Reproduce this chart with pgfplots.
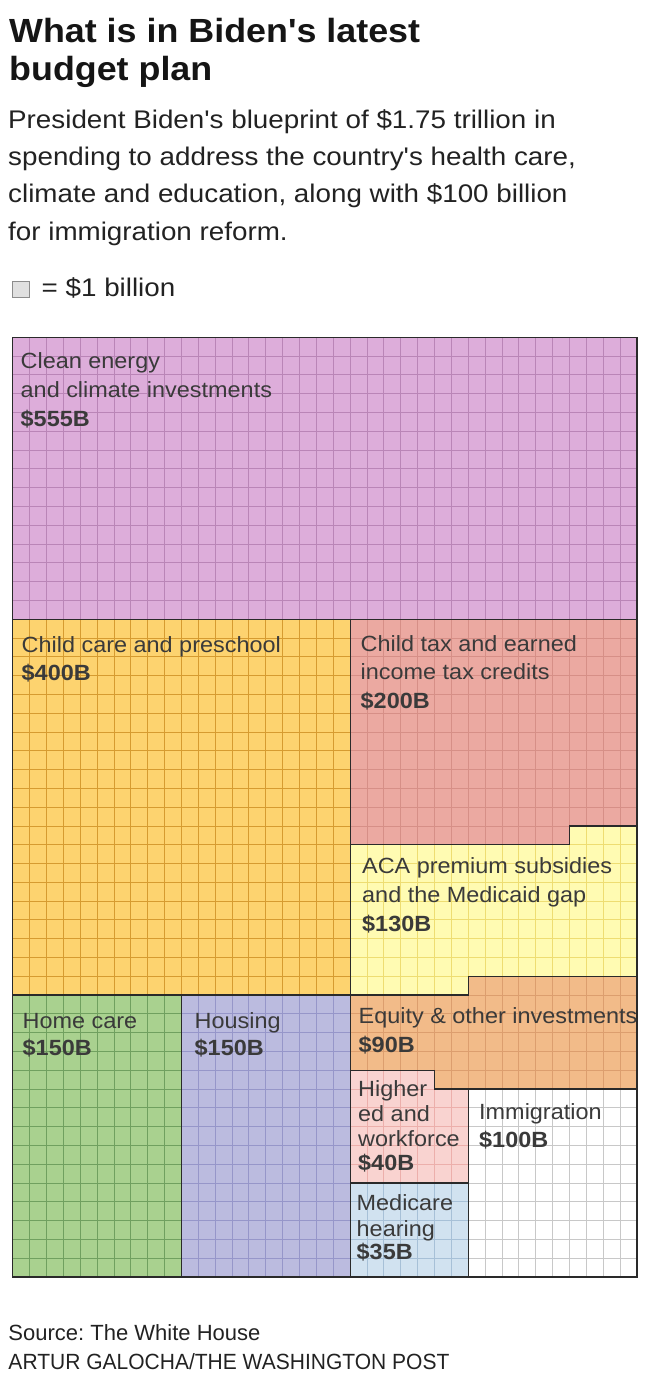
\documentclass[border=0pt]{standalone}
\usepackage{pgfplots}
\usepackage{pgfplotstable}
\pgfplotsset{compat=1.18}
\usepackage{fontspec}
\setmainfont{Liberation Sans}
\newfontfamily\titlefont[FakeStretch=1.07]{Liberation Sans}
\newfontfamily\subfont[FakeStretch=1.09]{Liberation Sans}
\newfontfamily\labfont[FakeStretch=1.065]{Liberation Sans}
\newfontfamily\credfont[FakeStretch=0.955]{Liberation Sans}
\frenchspacing

\definecolor{cleanF}{HTML}{DDADDA}\definecolor{cleanL}{HTML}{BA85B7}
\definecolor{careF}{HTML}{FDD36F}\definecolor{careL}{HTML}{D69B30}
\definecolor{taxF}{HTML}{EBA9A1}\definecolor{taxL}{HTML}{D68F87}
\definecolor{acaF}{HTML}{FFFBB2}\definecolor{acaL}{HTML}{EEDD72}
\definecolor{eqF}{HTML}{F2BB89}\definecolor{eqL}{HTML}{DC9E6E}
\definecolor{hiF}{HTML}{F9D3D0}\definecolor{hiL}{HTML}{ECAFAB}
\definecolor{medF}{HTML}{D1E2F0}\definecolor{medL}{HTML}{A7C0D7}
\definecolor{immF}{HTML}{FFFFFF}\definecolor{immL}{HTML}{C8C8C8}
\definecolor{homeF}{HTML}{A9D18F}\definecolor{homeL}{HTML}{70A05F}
\definecolor{housF}{HTML}{BBBBDF}\definecolor{housL}{HTML}{9696C9}
\definecolor{bordC}{HTML}{2A2A2A}
\definecolor{labC}{HTML}{3A3A3A}
\definecolor{titC}{HTML}{151515}
\definecolor{subC}{HTML}{222222}

% regions: x = column (0..37), y = row from top (0..50); one cell = $1 billion
\pgfplotstableread{
x y
0 0
37 0
37 15
0 15
0 0
}\tclean
\pgfplotstableread{
x y
0 15
20 15
20 35
0 35
0 15
}\tcare
\pgfplotstableread{
x y
20 15
37 15
37 26
33 26
33 27
20 27
20 15
}\ttax
\pgfplotstableread{
x y
33 26
37 26
37 34
27 34
27 35
20 35
20 27
33 27
33 26
}\taca
\pgfplotstableread{
x y
27 34
37 34
37 40
25 40
25 39
20 39
20 35
27 35
27 34
}\teq
\pgfplotstableread{
x y
20 39
25 39
25 40
27 40
27 45
20 45
20 39
}\thi
\pgfplotstableread{
x y
20 45
27 45
27 50
20 50
20 45
}\tmed
\pgfplotstableread{
x y
27 40
37 40
37 50
27 50
27 40
}\timm
\pgfplotstableread{
x y
0 35
10 35
10 50
0 50
0 35
}\thome
\pgfplotstableread{
x y
10 35
20 35
20 50
10 50
10 35
}\thous

\newcommand{\gridrect}[5]{%
  \pgfplotsinvokeforeach{#2,...,#3}{\draw[#1, line width=0.85pt] (axis cs:##1,#4) -- (axis cs:##1,#5);}%
  \pgfplotsinvokeforeach{#4,...,#5}{\draw[#1, line width=0.85pt] (axis cs:#2,##1) -- (axis cs:#3,##1);}%
}
\newcommand{\lab}[3]{\node[anchor=base west, inner sep=0pt, text=labC,
  font=\labfont\fontsize{22}{26}\selectfont] at (#1,{1394-#2}) {#3};}

\begin{document}
\begin{tikzpicture}[x=1pt,y=1pt]
\path (0,0) rectangle (650,1394);

% title, subtitle
\node[anchor=base west, inner sep=0pt, text=titC, font=\titlefont\bfseries\fontsize{33.5}{37}\selectfont] at (9,{1394-42.7}) {What is in Biden's latest};
\node[anchor=base west, inner sep=0pt, text=titC, font=\titlefont\bfseries\fontsize{33.5}{37}\selectfont] at (9,{1394-80.5}) {budget plan};
\node[anchor=base west, inner sep=0pt, text=subC, font=\subfont\fontsize{25.5}{30}\selectfont] at (8,{1394-128.3}) {President Biden's blueprint of \$1.75 trillion in};
\node[anchor=base west, inner sep=0pt, text=subC, font=\subfont\fontsize{25.5}{30}\selectfont] at (8,{1394-165.5}) {spending to address the country's health care,};
\node[anchor=base west, inner sep=0pt, text=subC, font=\subfont\fontsize{25.5}{30}\selectfont] at (8,{1394-203}) {climate and education, along with \$100 billion};
\node[anchor=base west, inner sep=0pt, text=subC, font=\subfont\fontsize{25.5}{30}\selectfont] at (8,{1394-240.5}) {for immigration reform.};
% legend
\draw[fill=black!12, draw=black!45, line width=0.8pt] (12.5,{1394-297}) rectangle (29,{1394-281.5});
\node[anchor=base west, inner sep=0pt, text=subC, font=\subfont\fontsize{25.5}{30}\selectfont] at (41.5,{1394-296.7}) {= \$1 billion};

\begin{axis}[at={(12.7pt,117pt)}, anchor=south west, scale only axis,
  width=624.3pt, height=939.7pt, xmin=0, xmax=37, ymin=0, ymax=50,
  y dir=reverse, hide axis, clip=false, no markers]
% fills
\addplot[fill=cleanF, draw=none] table {\tclean};
\addplot[fill=careF, draw=none] table {\tcare};
\addplot[fill=taxF, draw=none] table {\ttax};
\addplot[fill=acaF, draw=none] table {\taca};
\addplot[fill=eqF, draw=none] table {\teq};
\addplot[fill=hiF, draw=none] table {\thi};
\addplot[fill=medF, draw=none] table {\tmed};
\addplot[fill=immF, draw=none] table {\timm};
\addplot[fill=homeF, draw=none] table {\thome};
\addplot[fill=housF, draw=none] table {\thous};
% cell grids
\gridrect{cleanL}{0}{37}{0}{15}
\gridrect{careL}{0}{20}{15}{35}
\gridrect{taxL}{20}{37}{15}{26}
\gridrect{taxL}{20}{33}{26}{27}
\gridrect{acaL}{33}{37}{26}{27}
\gridrect{acaL}{20}{37}{27}{34}
\gridrect{acaL}{20}{27}{34}{35}
\gridrect{eqL}{27}{37}{34}{35}
\gridrect{eqL}{20}{37}{35}{39}
\gridrect{eqL}{25}{37}{39}{40}
\gridrect{hiL}{20}{25}{39}{40}
\gridrect{hiL}{20}{27}{40}{45}
\gridrect{medL}{20}{27}{45}{50}
\gridrect{immL}{27}{37}{40}{50}
\gridrect{homeL}{0}{10}{35}{50}
\gridrect{housL}{10}{20}{35}{50}
% borders
\addplot[draw=bordC, line width=1.3pt, line join=miter] table {\tclean};
\addplot[draw=bordC, line width=1.3pt, line join=miter] table {\tcare};
\addplot[draw=bordC, line width=1.3pt, line join=miter] table {\ttax};
\addplot[draw=bordC, line width=1.3pt, line join=miter] table {\taca};
\addplot[draw=bordC, line width=1.3pt, line join=miter] table {\teq};
\addplot[draw=bordC, line width=1.3pt, line join=miter] table {\thi};
\addplot[draw=bordC, line width=1.3pt, line join=miter] table {\tmed};
\addplot[draw=bordC, line width=1.3pt, line join=miter] table {\timm};
\addplot[draw=bordC, line width=1.3pt, line join=miter] table {\thome};
\addplot[draw=bordC, line width=1.3pt, line join=miter] table {\thous};
\end{axis}

% labels
\lab{20.5}{369}{Clean energy}
\lab{20.5}{398}{and climate investments}
\lab{20.5}{427}{\bfseries\$555B}
\lab{21.5}{653}{Child care and preschool}
\lab{21.5}{681}{\bfseries\$400B}
\lab{360.5}{652}{Child tax and earned}
\lab{360.5}{680}{income tax credits}
\lab{360.5}{708.5}{\bfseries\$200B}
\lab{362}{873.5}{ACA premium subsidies}
\lab{362}{903}{and the Medicaid gap}
\lab{362}{932}{\bfseries\$130B}
\lab{22.5}{1028.5}{Home care}
\lab{22.5}{1056}{\bfseries\$150B}
\lab{194.5}{1028.5}{Housing}
\lab{194.5}{1056}{\bfseries\$150B}
\lab{358.5}{1024}{Equity \& other investments}
\lab{358.5}{1052.5}{\bfseries\$90B}
\lab{358}{1097}{Higher}
\lab{358}{1122}{ed and}
\lab{358}{1146.5}{workforce}
\lab{358}{1171}{\bfseries\$40B}
\lab{479}{1120}{Immigration}
\lab{479}{1148}{\bfseries\$100B}
\lab{356.5}{1210.5}{Medicare}
\lab{356.5}{1236.5}{hearing}
\lab{356.5}{1260}{\bfseries\$35B}

% credits
\node[anchor=base west, inner sep=0pt, text=subC, font=\fontsize{22}{26}\selectfont] at (8.3,{1394-1340.7}) {Source: The White House};
\node[anchor=base west, inner sep=0pt, text=subC, font=\credfont\fontsize{22}{26}\selectfont] at (8.3,{1394-1369.3}) {ARTUR GALOCHA/THE WASHINGTON POST};
\end{tikzpicture}
\end{document}
